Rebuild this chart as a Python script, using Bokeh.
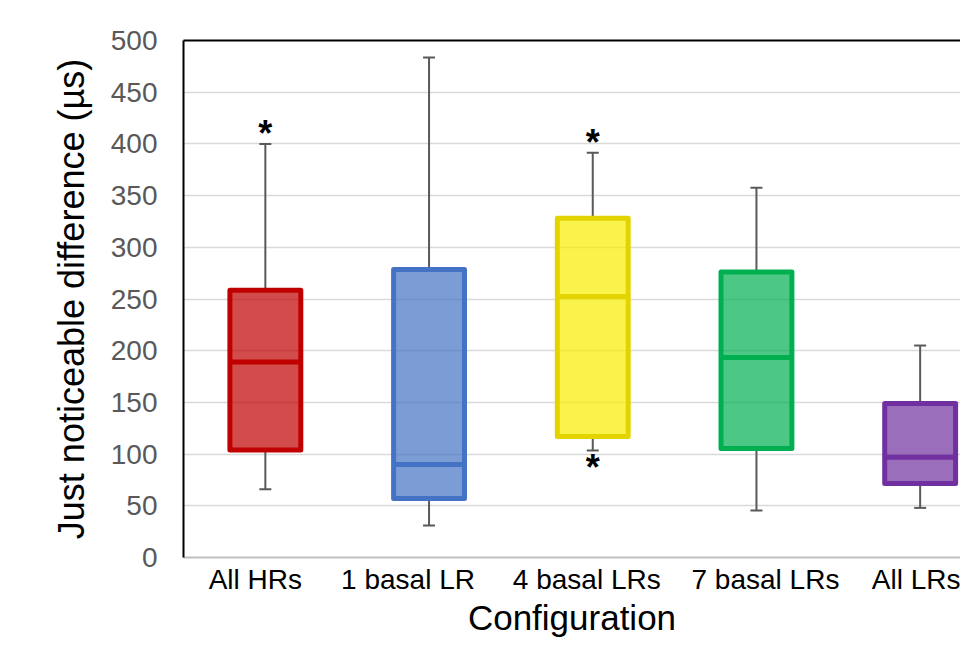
from bokeh.plotting import figure
from bokeh.models import Range1d, FixedTicker, LinearAxis, ColumnDataSource
from bokeh.core.properties import value
from bokeh.embed import file_html
from bokeh.resources import INLINE

# ---- data ----
categories = ["All HRs", "1 basal LR", "4 basal LRs", "7 basal LRs", "All LRs"]
whisker_low = [66, 31, 103.5, 45.5, 48]
q1 = [104, 57, 117, 105.5, 71.5]
median = [189, 90, 252.5, 193.5, 97]
q3 = [258.5, 278.5, 328, 276, 149]
whisker_high = [400, 483.5, 391.5, 357.5, 205]
line_colors = ["#C00000", "#4472C4", "#E3D400", "#00B050", "#7030A0"]
fill_colors = ["#C00000", "#4472C4", "#F7EE00", "#00B050", "#7030A0"]
star_categories = ["All HRs", "4 basal LRs", "4 basal LRs"]
star_sides = ["upper", "upper", "lower"]
y_ticks = [0, 50, 100, 150, 200, 250, 300, 350, 400, 450, 500]

# layout constants (not data)
FONT = "Liberation Sans"
box_w = 0.433
cat_px = 163.7                       # pixels per category slot
label_shift_px = [-10, -21, -6, 9, 2]  # tick-label nudges, as in the reference

xs = [i + 0.5 for i in range(len(categories))]
label_xs = [x + s / cat_px for x, s in zip(xs, label_shift_px)]

p = figure(width=960, height=641, output_backend="svg", toolbar_location=None,
           x_range=Range1d(0, 777 / cat_px), y_range=Range1d(0, 500),
           min_border_left=183, min_border_right=0, min_border_top=40,
           min_border_bottom=84)
p.outline_line_color = None
p.background_fill_color = "white"
p.border_fill_color = "white"

# grid
p.xgrid.grid_line_color = None
p.ygrid.grid_line_color = "#D9D9D9"
p.ygrid.grid_line_width = 1.5
p.ygrid.ticker = FixedTicker(ticks=y_ticks)

# y axis
p.yaxis.ticker = FixedTicker(ticks=y_ticks)
p.yaxis.axis_label = "Just noticeable difference (µs)"
p.yaxis.axis_label_text_font = FONT
p.yaxis.axis_label_text_font_size = "36px"
p.yaxis.axis_label_text_font_style = "normal"
p.yaxis.axis_label_text_color = "black"
p.yaxis.axis_label_standoff = 16
p.yaxis.major_label_text_font = FONT
p.yaxis.major_label_text_font_size = "28px"
p.yaxis.major_label_text_color = "#595959"
p.yaxis.major_label_standoff = 26
p.yaxis.major_tick_out = 0
p.yaxis.major_tick_in = 0
p.yaxis.minor_tick_out = 0
p.yaxis.minor_tick_in = 0
p.yaxis.axis_line_color = "black"
p.yaxis.axis_line_width = 2

# x axis
p.xaxis.ticker = FixedTicker(ticks=label_xs)
p.xaxis.major_label_overrides = {x: c for x, c in zip(label_xs, categories)}
p.xaxis.major_label_text_font = FONT
p.xaxis.major_label_text_font_size = "28px"
p.xaxis.major_label_text_color = "black"
p.xaxis.major_label_text_line_height = 1.0
p.xaxis.major_label_standoff = 6
p.xaxis.major_tick_out = 0
p.xaxis.major_tick_in = 0
p.xaxis.minor_tick_out = 0
p.xaxis.minor_tick_in = 0
p.xaxis.axis_line_color = "#BFBFBF"
p.xaxis.axis_line_width = 2
p.xaxis.axis_label = "Configuration"
p.xaxis.axis_label_text_font = FONT
p.xaxis.axis_label_text_font_size = "35px"
p.xaxis.axis_label_text_font_style = "normal"
p.xaxis.axis_label_text_color = "black"
p.xaxis.axis_label_text_line_height = 1.0
p.xaxis.axis_label_standoff = 0

# top border line
top_axis = LinearAxis(ticker=FixedTicker(ticks=[]), axis_line_color="black",
                      axis_line_width=2, major_tick_out=0, major_tick_in=0,
                      minor_tick_out=0, minor_tick_in=0)
p.add_layout(top_axis, "above")

src = ColumnDataSource(dict(x=xs, lo=whisker_low, q1=q1, med=median, q3=q3, hi=whisker_high,
                            lc=line_colors, fc=fill_colors,
                            x0=[x - box_w / 2 for x in xs], x1=[x + box_w / 2 for x in xs]))

# whiskers
p.segment(x0="x", y0="q3", x1="x", y1="hi", source=src, line_color="#595959", line_width=2)
p.segment(x0="x", y0="q1", x1="x", y1="lo", source=src, line_color="#595959", line_width=2)
p.scatter(x="x", y="hi", source=src, marker="dash", size=12, line_color="#595959", line_width=2)
p.scatter(x="x", y="lo", source=src, marker="dash", size=12, line_color="#595959", line_width=2)

# boxes
p.vbar(x="x", width=box_w, bottom="q1", top="q3", source=src, fill_color="fc",
       fill_alpha=0.7, line_color="lc", line_width=5, line_join="round")
p.segment(x0="x0", y0="med", x1="x1", y1="med", source=src, line_color="lc", line_width=5)

# asterisks
sx, sy, soff = [], [], []
for c, side in zip(star_categories, star_sides):
    i = categories.index(c)
    sx.append(xs[i])
    if side == "upper":
        sy.append(whisker_high[i])
        soff.append(-10)
    else:
        sy.append(whisker_low[i])
        soff.append(17)
p.text(x=sx, y=sy, text=["*"] * len(sx), y_offset=soff, text_align="center",
       text_baseline="alphabetic", text_font=value(FONT), text_font_size="36px",
       text_font_style="bold", text_color="black")

open("out.html", "w").write(file_html(p, INLINE))
